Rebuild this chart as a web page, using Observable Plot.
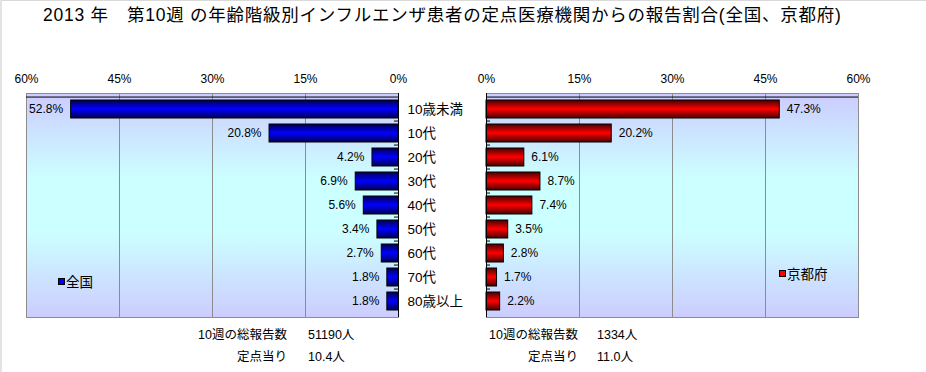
<!DOCTYPE html>
<html>
<head>
<meta charset="utf-8">
<script src="https://cdn.jsdelivr.net/npm/d3@7"></script>
<script src="https://cdn.jsdelivr.net/npm/@observablehq/plot@0.6"></script>
<style>
  body { margin: 0; background: #fff; }
  #root { position: relative; width: 926px; height: 372px; overflow: hidden; background: #fff;
          font-family: "Liberation Sans", "Noto Sans CJK JP", sans-serif; color: #000; }
  .abs { position: absolute; white-space: nowrap; }
  #title { left: 43px; top: 4px; font-size: 17.5px; line-height: 22px; letter-spacing: 0.75px; font-weight: normal; }
  .legend { font-size: 13.5px; line-height: 16px; }
  .legend i { display: inline-block; width: 5px; height: 5px; border: 1px solid #000; margin-right: 1px; vertical-align: 2px; }
  .foot { font-size: 12.5px; line-height: 16px; }
</style>
</head>
<body>
<div id="root">
  <div class="abs" style="left:0;top:0;width:926px;height:1px;background:#d9d9d9"></div>
  <div class="abs" style="left:0;top:0;width:2px;height:372px;background:#e3e3e3"></div>
  <div id="title" class="abs"></div>
</div>
<script>
// ---- data ----
const titleText = "2013 年　第10週 の年齢階級別インフルエンザ患者の定点医療機関からの報告割合(全国、京都府)";
const ages = ["10歳未満", "10代", "20代", "30代", "40代", "50代", "60代", "70代", "80歳以上"];
const nationalPct = [52.8, 20.8, 4.2, 6.9, 5.6, 3.4, 2.7, 1.8, 1.8];
const kyotoPct = [47.3, 20.2, 6.1, 8.7, 7.4, 3.5, 2.8, 1.7, 2.2];
const xTicks = [0, 15, 30, 45, 60];
const seriesNames = ["全国", "京都府"];
const totalLabel = "10週の総報告数";
const perSiteLabel = "定点当り";
const totals = [51190, 1334];
const perSite = ["10.4", "11.0"];

const root = document.getElementById("root");
document.getElementById("title").textContent = titleText;

const PLOT_H = 224; // inner plot height
const step = PLOT_H / ages.length;

function addDefs(svg, side, dark, bright) {
  const defs = document.createElementNS("http://www.w3.org/2000/svg", "defs");
  defs.innerHTML =
    `<linearGradient id="bg-${side}" x1="0" y1="0" x2="0" y2="1">
       <stop offset="0" stop-color="#ccccff"/>
       <stop offset="0.38" stop-color="#ccffff"/>
       <stop offset="0.62" stop-color="#ccffff"/>
       <stop offset="1" stop-color="#ccccff"/>
     </linearGradient>
     <linearGradient id="bar-${side}" x1="0" y1="0" x2="0" y2="1">
       <stop offset="0" stop-color="${dark}"/>
       <stop offset="0.5" stop-color="${bright}"/>
       <stop offset="1" stop-color="${dark}"/>
     </linearGradient>`;
  svg.insertBefore(defs, svg.firstChild);
}

function panel(values, side) {
  const left = side === "left";
  const data = ages.map((a, i) => ({age: a, v: values[i]}));
  const marks = [
    Plot.frame({fill: `url(#bg-${side})`, stroke: "#8c8c8c"}),
    Plot.gridX(xTicks, {stroke: "#8c8c8c", strokeOpacity: 1}),
    Plot.ruleY([ages[0]], {dy: -step / 2, stroke: "#000"}),
    Plot.barX(data, {x: "v", y: "age", fill: `url(#bar-${side})`, stroke: "#000", strokeWidth: 1}),
    Plot.ruleX([0], {stroke: "#000"}),
    Plot.ruleY(ages.slice(1), {x1: 0, x2: 0.65, dy: -step / 2, stroke: "#000"}),
    Plot.text(data, {
      x: "v", y: "age", text: d => d.v.toFixed(1) + "%",
      textAnchor: left ? "end" : "start", dx: left ? -8 : 7, fontSize: 12
    })
  ];
  if (left) {
    marks.push(Plot.text(ages, {x: () => 0, y: d => d, text: d => d, textAnchor: "start", dx: 9, fontSize: 13.5}));
  }
  const svg = Plot.plot({
    width: left ? 470 : 466,
    height: 33 + PLOT_H + 3,
    marginTop: 33, marginBottom: 3, marginLeft: 26, marginRight: left ? 72 : 68,
    style: {background: "transparent", overflow: "visible", fontSize: "12px",
            fontFamily: '"Liberation Sans", "Noto Sans CJK JP", sans-serif', color: "#000"},
    x: {domain: [0, 60], reverse: left, ticks: xTicks, tickFormat: d => d + "%", axis: "top",
        tickSize: 0, tickPadding: 11, label: null},
    y: {domain: ages, paddingInner: 0.24, paddingOuter: 0.12, axis: null},
    marks
  });
  addDefs(svg, side, left ? "#000050" : "#480000", left ? "#0000ff" : "#ff0000");
  svg.style.position = "absolute";
  svg.style.left = (left ? 0 : 460) + "px";
  svg.style.top = "60px";
  root.appendChild(svg);
}

panel(nationalPct, "left");
panel(kyotoPct, "right");

function legend(name, color, x, y) {
  const d = document.createElement("div");
  d.className = "abs legend";
  d.style.left = x + "px"; d.style.top = y + "px";
  d.innerHTML = `<i style="background:${color}"></i>${name}`;
  root.appendChild(d);
}
legend(seriesNames[0], "#0000ff", 58, 275);
legend(seriesNames[1], "#ff0000", 779, 267);

function footer(labX, valX, total, per) {
  const rows = [[totalLabel, total + "人", 327], [perSiteLabel, per + "人", 349]];
  for (const [lab, val, y] of rows) {
    const a = document.createElement("div");
    a.className = "abs foot";
    a.style.right = (926 - labX) + "px"; a.style.top = y + "px";
    a.textContent = lab;
    root.appendChild(a);
    const b = document.createElement("div");
    b.className = "abs foot";
    b.style.left = valX + "px"; b.style.top = y + "px";
    b.textContent = val;
    root.appendChild(b);
  }
}
footer(287, 308, totals[0], perSite[0]);
footer(578, 597, totals[1], perSite[1]);
</script>
</body>
</html>
